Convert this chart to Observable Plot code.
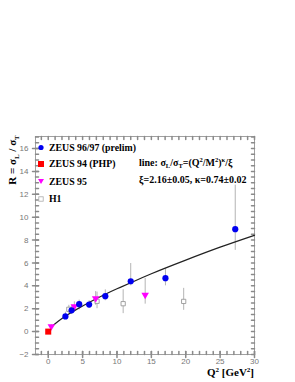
<!DOCTYPE html>
<html><head><meta charset="utf-8">
<script src="https://cdn.jsdelivr.net/npm/d3@7"></script>
<script src="https://cdn.jsdelivr.net/npm/@observablehq/plot@0.6"></script>
<style>body{margin:0;background:#fff} svg{display:block}</style>
</head><body><div id="chart"></div>
<script>
// ZEUS 96/97 (prelim)
const zeusPrelimQ2 = [2.5, 3.4, 4.5, 5.95, 8.3, 12.0, 17.05, 27.2];
const zeusPrelimR  = [1.33, 1.86, 2.4, 2.36, 3.1, 4.4, 4.67, 8.95];
const zeusPrelimLo = [1.05, 1.5, 1.9, 2.05, 2.7, 4.0, 4.0, 7.1];
const zeusPrelimHi = [1.7, 2.25, 2.75, 2.7, 3.65, 5.95, 5.5, 12.8];
// ZEUS 94 (PHP)
const zeus94Q2 = [0.0];
const zeus94R  = [0.0];
// ZEUS 95
const zeus95Q2 = [0.45, 3.8, 6.9, 14.1];
const zeus95R  = [0.45, 2.2, 2.9, 3.2];
const zeus95Lo = [0.3, 1.9, 2.3, 2.4];
const zeus95Hi = [0.6, 2.6, 3.5, 4.65];
// H1
const h1Q2 = [3.0, 7.1, 10.9, 19.7];
const h1R  = [1.95, 2.65, 2.44, 2.64];
const h1Lo = [1.55, 2.0, 1.57, 1.86];
const h1Hi = [2.3, 3.45, 3.66, 3.78];
// fitted line
const fitQ2 = [0.6, 1, 2, 3, 4, 6, 8, 10, 12, 15, 20, 25, 30];
const fitR  = [0.47, 0.68, 1.14, 1.54, 1.90, 2.57, 3.18, 3.74, 4.27, 5.06, 6.25, 7.38, 8.42];
// ticks
const xTicks = [0, 5, 10, 15, 20, 25, 30];
const yTicks = [-2, 0, 2, 4, 6, 8, 10, 12, 14, 16];
const xMinor = d3.range(-1, 31, 1);
const yMinor = d3.range(-2, 17.01, 0.5);

const rows = (q, r, lo, hi) => q.map((d, i) => ({q: d, r: r[i], lo: lo ? lo[i] : null, hi: hi ? hi[i] : null}));
const prelim = rows(zeusPrelimQ2, zeusPrelimR, zeusPrelimLo, zeusPrelimHi);
const php = rows(zeus94Q2, zeus94R);
const z95 = rows(zeus95Q2, zeus95R, zeus95Lo, zeus95Hi);
const h1 = rows(h1Q2, h1R, h1Lo, h1Hi);
const fit = fitQ2.map((d, i) => ({q: d, r: fitR[i]}));

const errColor = "#b4b4b4";
const tickColor = "#8a8a8a";
const tickShape = {draw(ctx, l) { ctx.moveTo(0, 0); ctx.lineTo(0, -l); }};

const chart = Plot.plot({
  width: 295, height: 382,
  marginLeft: 35, marginRight: 41, marginTop: 136, marginBottom: 28,
  x: {domain: [-1.85, 30]},
  y: {domain: [-2, 17.05]},
  style: {fontFamily: "Liberation Sans, Arial, sans-serif", fontSize: "8px", color: "#777"},
  marks: [
    Plot.frame({stroke: "#a0a0a0"}),
    Plot.axisX(xTicks, {tickSize: 0, tickPadding: 4, fill: "#777", label: null, fontSize: 8}),
    Plot.axisY(yTicks, {tickSize: 0, tickPadding: 7, fill: "#777", label: null, fontSize: 8}),
    // major ticks
    Plot.vector(xTicks, {x: d => d, frameAnchor: "bottom", length: 6, rotate: 0, anchor: "middle", shape: tickShape, stroke: tickColor}),
    Plot.vector(yTicks, {y: d => d, frameAnchor: "left", length: 6, rotate: 90, anchor: "middle", shape: tickShape, stroke: tickColor}),
    // minor ticks inside
    Plot.vector(xMinor, {x: d => d, frameAnchor: "bottom", length: 3, rotate: 0, anchor: "start", shape: tickShape, stroke: tickColor}),
    Plot.vector(xMinor, {x: d => d, frameAnchor: "top", length: 3, rotate: 180, anchor: "start", shape: tickShape, stroke: tickColor}),
    Plot.vector(yMinor, {y: d => d, frameAnchor: "left", length: 3, rotate: 90, anchor: "start", shape: tickShape, stroke: tickColor}),
    Plot.vector(yMinor, {y: d => d, frameAnchor: "right", length: 3, rotate: -90, anchor: "start", shape: tickShape, stroke: tickColor}),
    // error bars
    Plot.ruleX(h1, {x: "q", y1: "lo", y2: "hi", stroke: errColor}),
    Plot.ruleX(z95, {x: "q", y1: "lo", y2: "hi", stroke: errColor}),
    Plot.ruleX(prelim, {x: "q", y1: "lo", y2: "hi", stroke: errColor}),
    // fit line
    Plot.line(fit, {x: "q", y: "r", curve: "natural", stroke: "#222", strokeWidth: 1.2}),
    // points
    Plot.dot(h1, {x: "q", y: "r", symbol: "square", r: 2.4, stroke: "#999", fill: "white", strokeWidth: 0.9}),
    Plot.dot(z95, {x: "q", y: "r", symbol: "triangle", rotate: 180, r: 2.8, fill: "#ff00ff", stroke: "none"}),
    Plot.dot(php, {x: "q", y: "r", symbol: "square", r: 3.4, fill: "#ff0000", stroke: "none"}),
    Plot.dot(prelim, {x: "q", y: "r", r: 3.1, fill: "#0000f0", stroke: "none"})
  ]
});

const svg = d3.select(chart);
const serif = "Liberation Serif, Times New Roman, serif";

// legend
const leg = [
  {label: "ZEUS 96/97 (prelim)", y: 147.5, sym: "circle"},
  {label: "ZEUS 94 (PHP)", y: 164, sym: "square"},
  {label: "ZEUS 95", y: 181.5, sym: "tri"},
  {label: "H1", y: 199, sym: "open"}
];
const lg = svg.append("g").attr("text-anchor", "start");
leg.forEach(d => {
  const x = 41;
  if (d.sym === "circle") lg.append("circle").attr("cx", x).attr("cy", d.y).attr("r", 2.6).attr("fill", "#0000f0");
  if (d.sym === "square") lg.append("rect").attr("x", x - 3).attr("y", d.y - 3).attr("width", 6).attr("height", 6).attr("fill", "#ff0000");
  if (d.sym === "tri") lg.append("path").attr("d", `M${x-3},${d.y-2.5}L${x+3},${d.y-2.5}L${x},${d.y+2.5}Z`).attr("fill", "#ff00ff");
  if (d.sym === "open") lg.append("rect").attr("x", x - 2.2).attr("y", d.y - 2.2).attr("width", 4.4).attr("height", 4.4).attr("fill", "white").attr("stroke", "#aaa").attr("stroke-width", 0.8);
  lg.append("text").attr("x", 49).attr("y", d.y + 3.3).attr("font-family", serif).attr("font-weight", "bold")
    .attr("font-size", 9.8).attr("fill", "#000").attr("text-anchor", "start").text(d.label);
});

// annotation
const t1 = svg.append("text").attr("x", 139).attr("y", 165.5).attr("text-anchor", "start").attr("font-family", serif).attr("font-weight", "bold").attr("font-size", 10).attr("fill", "#000");
t1.append("tspan").text("line: σ");
t1.append("tspan").attr("font-size", 6.5).attr("dy", 2).text("L");
t1.append("tspan").attr("dy", -2).text("/σ");
t1.append("tspan").attr("font-size", 6.5).attr("dy", 2).text("T");
t1.append("tspan").attr("dy", -2).text("=(Q");
t1.append("tspan").attr("font-size", 6.5).attr("dy", -3.5).text("2");
t1.append("tspan").attr("dy", 3.5).text("/M");
t1.append("tspan").attr("font-size", 6.5).attr("dy", -3.5).text("2");
t1.append("tspan").attr("dy", 3.5).text(")");
t1.append("tspan").attr("font-size", 6.5).attr("dy", -3.5).text("κ");
t1.append("tspan").attr("dy", 3.5).text("/ξ");
svg.append("text").attr("x", 139).attr("y", 183).attr("text-anchor", "start").attr("font-family", serif).attr("font-weight", "bold").attr("font-size", 10).attr("fill", "#000")
  .text("ξ=2.16±0.05, κ=0.74±0.02");

// x title
const xt = svg.append("text").attr("x", 254).attr("y", 376).attr("text-anchor", "end").attr("font-family", serif).attr("font-weight", "bold").attr("font-size", 11).attr("fill", "#000");
xt.append("tspan").text("Q");
xt.append("tspan").attr("font-size", 7).attr("dy", -4).text("2");
xt.append("tspan").attr("dy", 4).text(" [GeV");
xt.append("tspan").attr("font-size", 7).attr("dy", -4).text("2");
xt.append("tspan").attr("dy", 4).text("]");

// y title
const yt = svg.append("text").attr("transform", "translate(16,160) rotate(-90)").attr("text-anchor", "middle").attr("font-family", serif).attr("font-weight", "bold").attr("font-size", 11).attr("fill", "#000");
yt.append("tspan").text("R = σ");
yt.append("tspan").attr("font-size", 7).attr("dy", 3).text("L");
yt.append("tspan").attr("dy", -3).text(" / σ");
yt.append("tspan").attr("font-size", 7).attr("dy", 3).text("T");

document.getElementById("chart").append(chart);
</script>
</body></html>
